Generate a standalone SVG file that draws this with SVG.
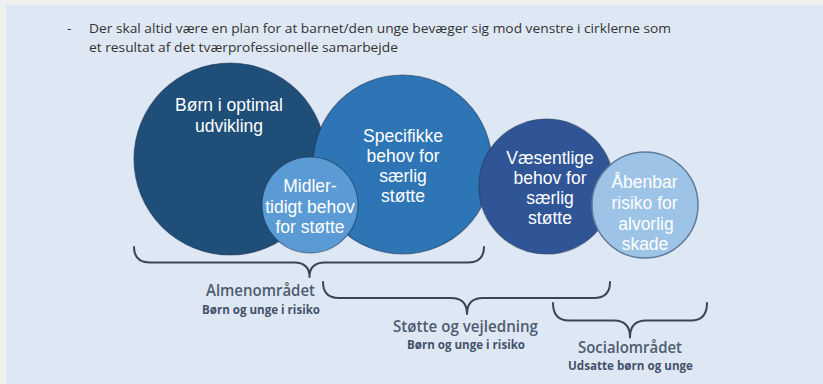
<svg xmlns="http://www.w3.org/2000/svg" width="823" height="384" viewBox="0 0 823 384">
  <style>
    .ctext { font-family: "Liberation Sans", Arial, sans-serif; font-size: 17.5px; fill: #ffffff; text-anchor: middle; }
    .head { font-family: "Open Sans", "Liberation Sans", sans-serif; font-size: 13.5px; fill: #333333; }
    .area { font-family: "Open Sans", "Liberation Sans", sans-serif; font-weight: 600; font-size: 16px; fill: #4e5c70; }
    .sub { font-family: "Open Sans", "Liberation Sans", sans-serif; font-weight: 700; font-size: 11.5px; fill: #44526a; }
    .brace { fill: none; stroke: #3c4554; stroke-width: 2; stroke-linecap: round; stroke-linejoin: round; }
    .edge { stroke: #1d3552; stroke-opacity: 0.55; stroke-width: 1.2; }
  </style>

  <!-- page and panel -->
  <rect x="0" y="0" width="823" height="384" fill="#f0f0f0"/>
  <rect x="6" y="5" width="817" height="379" fill="#dee8f4"/>

  <!-- heading -->
  <g id="heading">
    <text class="head" x="67" y="33">-</text>
    <text class="head" x="89" y="33" textLength="582" lengthAdjust="spacingAndGlyphs">Der skal altid være en plan for at barnet/den unge bevæger sig mod venstre i cirklerne som</text>
    <text class="head" x="89" y="51.5" textLength="309" lengthAdjust="spacingAndGlyphs">et resultat af det tværprofessionelle samarbejde</text>
  </g>

  <!-- circles -->
  <g id="optimal">
    <circle class="edge" cx="230" cy="159" r="96" fill="#1f4e79"/>
    <text class="ctext" x="229" y="111">Børn i optimal</text>
    <text class="ctext" x="229" y="131.5">udvikling</text>
  </g>

  <g id="specifikke">
    <circle class="edge" cx="402.5" cy="164.5" r="89.5" fill="#2e75b6"/>
    <text class="ctext" x="403" y="142">Specifikke</text>
    <text class="ctext" x="403" y="162">behov for</text>
    <text class="ctext" x="403" y="182">særlig</text>
    <text class="ctext" x="403" y="202">støtte</text>
  </g>

  <g id="midlertidigt">
    <circle class="edge" cx="310" cy="205" r="48" fill="#5b9bd5"/>
    <text class="ctext" x="310" y="192">Midler-</text>
    <text class="ctext" x="310" y="212.5">tidigt behov</text>
    <text class="ctext" x="310" y="233">for støtte</text>
  </g>

  <g id="vaesentlige">
    <circle class="edge" cx="546.5" cy="186.5" r="67.5" fill="#2f5597"/>
    <text class="ctext" x="550" y="163.5">Væsentlige</text>
    <text class="ctext" x="550" y="183.5">behov for</text>
    <text class="ctext" x="550" y="203.5">særlig</text>
    <text class="ctext" x="550" y="223.5">støtte</text>
  </g>

  <g id="aabenbar">
    <circle cx="645" cy="205" r="53" fill="#9dc3e6" stroke="#5f7b99" stroke-width="1.5"/>
    <text class="ctext" x="644.5" y="188">Åbenbar</text>
    <text class="ctext" x="644.5" y="209">risiko for</text>
    <text class="ctext" x="646" y="229.5">alvorlig</text>
    <text class="ctext" x="645" y="249.5">skade</text>
  </g>

  <!-- braces grouping the circles into areas -->
  <g id="braces">
    <path class="brace" d="M134,247 Q134,262.5 150,262.5 H294 Q309.5,262.5 309.5,277 Q309.5,262.5 325,262.5 H468 Q484,262.5 484,247"/>
    <path class="brace" d="M323,282 Q323,298 339,298 H451 Q467,298 467,314 Q467,298 483,298 H594 Q610,298 610,282"/>
    <path class="brace" d="M553,303 Q553,320.5 569,320.5 H614 Q630,320.5 630,337.5 Q630,320.5 646,320.5 H691 Q707,320.5 707,303"/>
  </g>

  <!-- area labels -->
  <g id="almen">
    <text class="area" x="206" y="296" textLength="109" lengthAdjust="spacingAndGlyphs">Almenområdet</text>
    <text class="sub" x="202" y="313.5" textLength="118" lengthAdjust="spacingAndGlyphs">Børn og unge i risiko</text>
  </g>
  <g id="stoette">
    <text class="area" x="393" y="331.5" textLength="145" lengthAdjust="spacingAndGlyphs">Støtte og vejledning</text>
    <text class="sub" x="407" y="348.5" textLength="118" lengthAdjust="spacingAndGlyphs">Børn og unge i risiko</text>
  </g>
  <g id="social">
    <text class="area" x="578" y="352.5" textLength="104" lengthAdjust="spacingAndGlyphs">Socialområdet</text>
    <text class="sub" x="568" y="370" textLength="125" lengthAdjust="spacingAndGlyphs">Udsatte børn og unge</text>
  </g>
</svg>
